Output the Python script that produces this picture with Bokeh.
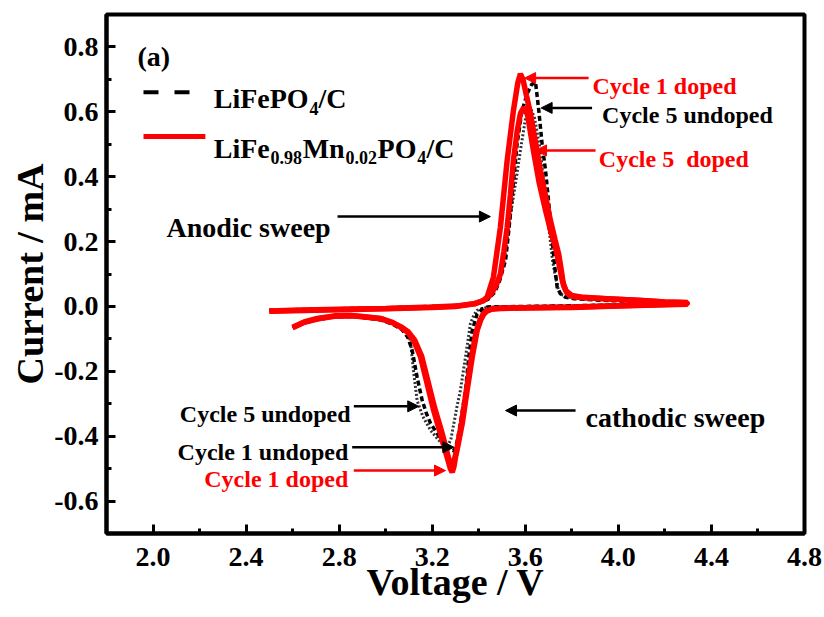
from bokeh.plotting import figure
from bokeh.models import Label, Arrow, NormalHead, FixedTicker, PrintfTickFormatter, Range1d
from bokeh.embed import file_html
from bokeh.resources import INLINE

# ---------------- data ----------------
x_ticks = [2.0, 2.4, 2.8, 3.2, 3.6, 4.0, 4.4, 4.8]
x_minor = [2.2, 2.6, 3.0, 3.4, 3.8, 4.2, 4.6]
y_ticks = [-0.6, -0.4, -0.2, 0.0, 0.2, 0.4, 0.6, 0.8]
y_minor = [-0.7, -0.5, -0.3, -0.1, 0.1, 0.3, 0.5, 0.7]

# LiFePO4/C (undoped) cycle 1 - dashed black
v_undoped_c1 = [2.50, 2.60, 2.80, 3.00, 3.20, 3.30, 3.40, 3.44, 3.47, 3.49, 3.515, 3.530, 3.544, 3.565,
                3.585, 3.608, 3.628, 3.644, 3.658, 3.672, 3.687, 3.701, 3.716, 3.725, 3.737, 3.750,
                3.773, 3.81, 3.90, 4.00, 4.10, 4.20, 4.296,
                4.296, 4.20, 4.00, 3.80, 3.60, 3.50, 3.455, 3.436, 3.415, 3.393, 3.372, 3.357, 3.343,
                3.321, 3.310, 3.300, 3.290, 3.275, 3.258, 3.243, 3.220, 3.193, 3.175, 3.157, 3.135,
                3.114, 3.095, 3.07, 3.03, 2.98, 2.90, 2.85, 2.78, 2.71, 2.65, 2.60]
i_undoped_c1 = [-0.012, -0.010, -0.007, -0.004, 0.000, 0.003, 0.010, 0.022, 0.045, 0.080, 0.142, 0.240, 0.348, 0.502,
                0.600, 0.656, 0.685, 0.691, 0.604, 0.502, 0.419, 0.317, 0.203, 0.132, 0.059, 0.040,
                0.028, 0.024, 0.020, 0.017, 0.015, 0.013, 0.011,
                0.010, 0.008, 0.005, 0.002, 0.000, -0.001, -0.001, -0.002, -0.008, -0.023, -0.074, -0.156, -0.259,
                -0.361, -0.405, -0.438, -0.445, -0.440, -0.428, -0.413, -0.390, -0.361, -0.330, -0.290, -0.218,
                -0.136, -0.095, -0.072, -0.055, -0.042, -0.034, -0.031, -0.032, -0.040, -0.050, -0.066]

# LiFePO4/C (undoped) cycle 5 - dotted black
v_undoped_c5 = [2.50, 2.60, 2.80, 3.00, 3.20, 3.30, 3.40, 3.44, 3.47, 3.502, 3.520, 3.536, 3.558, 3.579,
                3.600, 3.622, 3.640, 3.665, 3.680, 3.691, 3.705, 3.717, 3.730, 3.743, 3.760, 3.790,
                3.85, 3.95, 4.05, 4.15, 4.296,
                4.296, 4.20, 4.00, 3.80, 3.60, 3.50, 3.45, 3.420, 3.393, 3.380, 3.364, 3.343, 3.321,
                3.306, 3.293, 3.280, 3.264, 3.245, 3.225, 3.193, 3.160, 3.135, 3.121, 3.106, 3.090,
                3.065, 3.03, 2.98, 2.90, 2.85, 2.78, 2.71, 2.65, 2.60]
i_undoped_c5 = [-0.012, -0.010, -0.007, -0.004, 0.000, 0.003, 0.010, 0.022, 0.050, 0.111, 0.190, 0.280, 0.380, 0.481,
                0.575, 0.613, 0.580, 0.480, 0.370, 0.296, 0.220, 0.142, 0.090, 0.049, 0.035, 0.028,
                0.023, 0.020, 0.017, 0.014, 0.011,
                0.010, 0.008, 0.005, 0.002, 0.000, -0.001, -0.002, -0.005, -0.012, -0.025, -0.053, -0.156, -0.259,
                -0.310, -0.361, -0.410, -0.434, -0.425, -0.410, -0.382, -0.340, -0.290, -0.208, -0.105, -0.075,
                -0.060, -0.050, -0.040, -0.033, -0.030, -0.031, -0.039, -0.049, -0.065]

# LiFe0.98Mn0.02PO4/C (doped) cycle 1 - red
v_doped_c1 = [2.50, 2.60, 2.80, 3.00, 3.20, 3.30, 3.38, 3.42, 3.436, 3.463, 3.493, 3.522, 3.549, 3.568,
              3.579, 3.590, 3.605, 3.622, 3.643, 3.665, 3.687, 3.708, 3.728, 3.743, 3.755, 3.764,
              3.780, 3.807, 3.85, 3.95, 4.10, 4.20, 4.296,
              4.296, 4.20, 4.00, 3.80, 3.60, 3.50, 3.479, 3.455, 3.435, 3.422, 3.408, 3.393, 3.372,
              3.350, 3.329, 3.310, 3.300, 3.293, 3.286, 3.278, 3.270, 3.264, 3.250, 3.235, 3.206,
              3.178, 3.150, 3.120, 3.095, 3.064, 3.030, 2.978, 2.90, 2.849, 2.78, 2.706, 2.65, 2.60]
i_doped_c1 = [-0.015, -0.013, -0.010, -0.007, -0.003, 0.000, 0.008, 0.018, 0.029, 0.090, 0.244, 0.450, 0.604, 0.690,
              0.717, 0.700, 0.650, 0.595, 0.510, 0.419, 0.340, 0.265, 0.205, 0.163, 0.110, 0.065,
              0.040, 0.030, 0.027, 0.024, 0.018, 0.014, 0.011,
              0.008, 0.006, 0.002, -0.002, -0.004, -0.005, -0.006, -0.008, -0.014, -0.023, -0.042, -0.074, -0.156,
              -0.259, -0.361, -0.430, -0.465, -0.495, -0.511, -0.500, -0.480, -0.465, -0.430, -0.392, -0.320,
              -0.238, -0.156, -0.105, -0.080, -0.064, -0.050, -0.037, -0.031, -0.028, -0.029, -0.037, -0.048, -0.064]

# LiFe0.98Mn0.02PO4/C (doped) cycle 5 - red
v_doped_c5 = [2.50, 2.60, 2.80, 3.00, 3.20, 3.30, 3.38, 3.42, 3.45, 3.475, 3.493, 3.508, 3.522, 3.536,
              3.549, 3.565, 3.579, 3.594, 3.610, 3.635, 3.660, 3.687, 3.710, 3.730, 3.745, 3.759,
              3.775, 3.80, 3.85, 3.95, 4.10, 4.20, 4.296,
              4.296, 4.20, 4.00, 3.80, 3.60, 3.50, 3.475, 3.452, 3.432, 3.418, 3.404, 3.389, 3.368,
              3.346, 3.326, 3.308, 3.298, 3.288, 3.278, 3.268, 3.255, 3.240, 3.210, 3.182, 3.154,
              3.124, 3.098, 3.066, 3.03, 2.98, 2.90, 2.85, 2.78, 2.71, 2.65, 2.60]
i_doped_c5 = [-0.014, -0.012, -0.009, -0.006, -0.002, 0.001, 0.008, 0.018, 0.035, 0.065, 0.100, 0.170, 0.243, 0.345,
              0.450, 0.540, 0.595, 0.614, 0.590, 0.480, 0.380, 0.296, 0.230, 0.182, 0.130, 0.080,
              0.048, 0.034, 0.028, 0.024, 0.018, 0.014, 0.012,
              0.007, 0.005, 0.001, -0.003, -0.005, -0.006, -0.007, -0.009, -0.015, -0.025, -0.045, -0.078, -0.160,
              -0.262, -0.360, -0.432, -0.465, -0.490, -0.485, -0.462, -0.425, -0.385, -0.312, -0.232, -0.152,
              -0.103, -0.079, -0.063, -0.050, -0.038, -0.032, -0.029, -0.030, -0.038, -0.049, -0.066]

RED = "#ff0000"
FONT = "Liberation Serif"

# ---------------- figure ----------------
p = figure(width=824, height=617, output_backend="svg", toolbar_location=None,
           x_range=Range1d(1.8, 4.8), y_range=Range1d(-0.7, 0.9),
           min_border_left=106, min_border_right=20, min_border_top=14, min_border_bottom=84)
p.background_fill_color = "white"
p.border_fill_color = "white"
p.outline_line_color = "black"
p.outline_line_width = 4
p.xgrid.visible = False
p.ygrid.visible = False

for ax, ticks, minor in ((p.xaxis[0], x_ticks, x_minor), (p.yaxis[0], y_ticks, y_minor)):
    ax.ticker = FixedTicker(ticks=ticks, minor_ticks=minor)
    ax.formatter = PrintfTickFormatter(format="%.1f")
    ax.axis_line_width = 4
    ax.axis_line_color = "black"
    ax.major_tick_in = 9
    ax.major_tick_out = 0
    ax.minor_tick_in = 5
    ax.minor_tick_out = 0
    ax.major_tick_line_width = 3
    ax.minor_tick_line_width = 3
    ax.major_label_text_font = FONT
    ax.major_label_text_font_style = "bold"
    ax.major_label_text_font_size = "28px"
    ax.major_label_text_color = "black"
    ax.axis_label_text_font = FONT
    ax.axis_label_text_font_style = "bold"
    ax.axis_label_text_font_size = "38px"
    ax.axis_label_text_color = "black"

p.xaxis[0].axis_label = "Voltage / V"
p.yaxis[0].axis_label = "Current / mA"
p.xaxis[0].major_label_standoff = 14
p.yaxis[0].major_label_standoff = 8
p.xaxis[0].axis_label_standoff = -8
p.yaxis[0].axis_label_standoff = 0

# ---------------- curves ----------------
p.line(v_undoped_c5, i_undoped_c5, line_color="#333333", line_width=3, line_dash="2 2")
p.line(v_undoped_c1, i_undoped_c1, line_color="black", line_width=3.5, line_dash="5 3")
p.line(v_doped_c5, i_doped_c5, line_color=RED, line_width=5.5)
p.line(v_doped_c1, i_doped_c1, line_color=RED, line_width=5.5)

# ---------------- legend (manual, for subscripts) ----------------
p.segment(x0=[1.959], y0=[0.660], x1=[2.225], y1=[0.660], line_color="black", line_width=4, line_dash="15 16")
p.segment(x0=[1.959], y0=[0.524], x1=[2.225], y1=[0.524], line_color=RED, line_width=5)


def lab(x, y, text, size, color="black", align="left"):
    p.add_layout(Label(x=x, y=y, text=text, text_font=FONT, text_font_style="bold",
                       text_font_size=size, text_color=color, text_align=align,
                       text_baseline="alphabetic"))


LEG = "28px"
SUB = "18px"
lab(2.261, 0.640, "LiFePO", LEG)
lab(2.672, 0.610, "4", SUB)
lab(2.711, 0.640, "/C", LEG)
lab(2.261, 0.487, "LiFe", LEG)
lab(2.505, 0.459, "0.98", SUB)
lab(2.643, 0.487, "Mn", LEG)
lab(2.827, 0.459, "0.02", SUB)
lab(2.965, 0.487, "PO", LEG)
lab(3.136, 0.459, "4", SUB)
lab(3.175, 0.487, "/C", LEG)

lab(1.933, 0.771, "(a)", "28px")

# ---------------- annotations ----------------
def arrow(x0, y0, x1, y1, color="black"):
    p.add_layout(Arrow(end=NormalHead(size=11, fill_color=color, line_color=color),
                       x_start=x0, y_start=y0, x_end=x1, y_end=y1,
                       line_color=color, line_width=2.5))


lab(2.058, 0.243, "Anodic sweep", "28px")
arrow(2.793, 0.277, 3.450, 0.277)

lab(3.889, 0.681, "Cycle 1 doped", "24px", RED)
arrow(3.872, 0.704, 3.597, 0.704, RED)

lab(3.930, 0.589, "Cycle 5 undoped", "24px")
arrow(3.887, 0.612, 3.668, 0.612)

lab(3.916, 0.455, "Cycle 5 \u00a0doped", "24px", RED)
arrow(3.902, 0.481, 3.644, 0.481, RED)

lab(2.849, -0.331, "Cycle 5 undoped", "24px", align="right")
arrow(2.863, -0.308, 3.142, -0.308)

lab(2.839, -0.449, "Cycle 1 undoped", "24px", align="right")
arrow(2.856, -0.434, 3.293, -0.434)

lab(2.839, -0.531, "Cycle 1 doped", "24px", RED, align="right")
arrow(2.863, -0.506, 3.257, -0.506, RED)

lab(3.859, -0.341, "cathodic sweep", "28px")
arrow(3.816, -0.321, 3.515, -0.321)

open("out.html", "w").write(file_html(p, INLINE))
